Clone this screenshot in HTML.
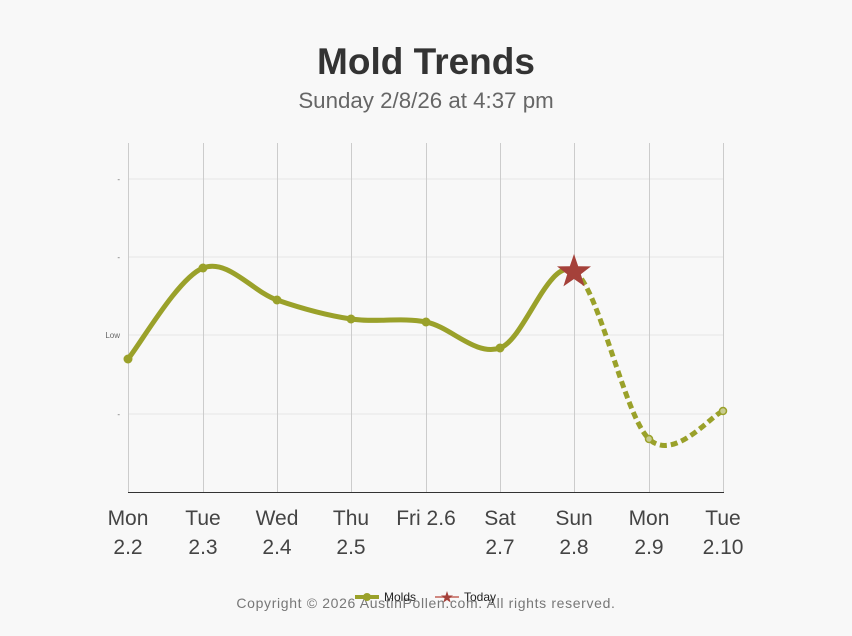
<!DOCTYPE html>
<html><head><meta charset="utf-8"><style>
html,body{margin:0;padding:0;background:#f8f8f8;}
svg{display:block;font-family:"Liberation Sans",sans-serif;}
</style></head><body>
<svg width="852" height="636" viewBox="0 0 852 636" xmlns="http://www.w3.org/2000/svg">
<rect width="852" height="636" fill="#f8f8f8"/>
<text x="426" y="74" text-anchor="middle" font-size="37" font-weight="bold" fill="#333">Mold Trends</text>
<text x="426" y="108" text-anchor="middle" font-size="22.3" fill="#666">Sunday 2/8/26 at 4:37 pm</text>
<g stroke="#e6e6e6" stroke-width="1">
<line x1="128" y1="179" x2="723" y2="179"/><line x1="128" y1="257" x2="723" y2="257"/>
<line x1="128" y1="335" x2="723" y2="335"/><line x1="128" y1="414" x2="723" y2="414"/>
</g>
<g stroke="#ccc" stroke-width="1">
<line x1="128.5" y1="143" x2="128.5" y2="492"/><line x1="203.5" y1="143" x2="203.5" y2="492"/>
<line x1="277.5" y1="143" x2="277.5" y2="492"/><line x1="351.5" y1="143" x2="351.5" y2="492"/>
<line x1="426.5" y1="143" x2="426.5" y2="492"/><line x1="500.5" y1="143" x2="500.5" y2="492"/>
<line x1="574.5" y1="143" x2="574.5" y2="492"/><line x1="649.5" y1="143" x2="649.5" y2="492"/>
<line x1="723.5" y1="143" x2="723.5" y2="492"/>
</g>
<line x1="128" y1="492.5" x2="724" y2="492.5" stroke="#333" stroke-width="1"/>
<g font-size="8" fill="#666" text-anchor="end">
<text x="120" y="182">-</text><text x="120" y="260">-</text><text x="120" y="338">Low</text><text x="120" y="417">-</text>
</g>
<path d="M128,359 C140.5,343.8 178.2,277.8 203,268 C227.8,258.2 252.3,291.5 277,300 C301.7,308.5 326.2,315.3 351,319 C375.8,322.7 401.2,317.2 426,322 C450.8,326.8 475.3,356.5 500,348 C524.7,339.5 549.2,255.8 574,271" fill="none" stroke="#9aa12a" stroke-width="5" stroke-linecap="round"/>
<path d="M574,271 C598.8,286.2 624.2,415.7 649,439 C673.8,462.3 710.7,415.7 723,411" fill="none" stroke="#9aa12a" stroke-width="5" stroke-dasharray="7,4"/>
<g fill="#9aa12a">
<circle cx="128" cy="359" r="4.5"/><circle cx="203" cy="268" r="4.5"/><circle cx="277" cy="300" r="4.5"/>
<circle cx="351" cy="319" r="4.5"/><circle cx="426" cy="322" r="4.5"/><circle cx="500" cy="348" r="4.5"/>
</g>
<g fill="#c8cc90" stroke="#9aa12a" stroke-width="1.5">
<circle cx="649" cy="439" r="3.5"/><circle cx="723" cy="411" r="3.5"/>
</g>
<polygon points="574,254 578.2,266.2 591,266.4 580.8,274.2 584.6,286.4 574,279 563.4,286.4 567.2,274.2 557,266.4 569.8,266.2" fill="#a5413a"/>
<g font-size="21" fill="#444" text-anchor="middle">
<text x="128" y="525">Mon</text><text x="128" y="554">2.2</text>
<text x="203" y="525">Tue</text><text x="203" y="554">2.3</text>
<text x="277" y="525">Wed</text><text x="277" y="554">2.4</text>
<text x="351" y="525">Thu</text><text x="351" y="554">2.5</text>
<text x="426" y="525">Fri 2.6</text>
<text x="500" y="525">Sat</text><text x="500" y="554">2.7</text>
<text x="574" y="525">Sun</text><text x="574" y="554">2.8</text>
<text x="649" y="525">Mon</text><text x="649" y="554">2.9</text>
<text x="723" y="525">Tue</text><text x="723" y="554">2.10</text>
</g>
<text x="426" y="608" text-anchor="middle" font-size="14" fill="#777" letter-spacing="0.65">Copyright © 2026 AustinPollen.com.  All rights reserved.</text>
<rect x="355" y="595" width="24" height="4" fill="#9aa12a"/><circle cx="367" cy="597" r="4" fill="#9aa12a"/>
<text x="384" y="601" font-size="12" fill="#222">Molds</text>
<line x1="435" y1="597" x2="459" y2="597" stroke="#d08880" stroke-width="2"/>
<polygon points="447,591 448.5,595.5 453,595.5 449.4,598.2 450.7,602.5 447,600 443.3,602.5 444.6,598.2 441,595.5 445.5,595.5" fill="#a5413a"/>
<text x="464" y="601" font-size="12" fill="#222">Today</text>
</svg>
</body></html>
